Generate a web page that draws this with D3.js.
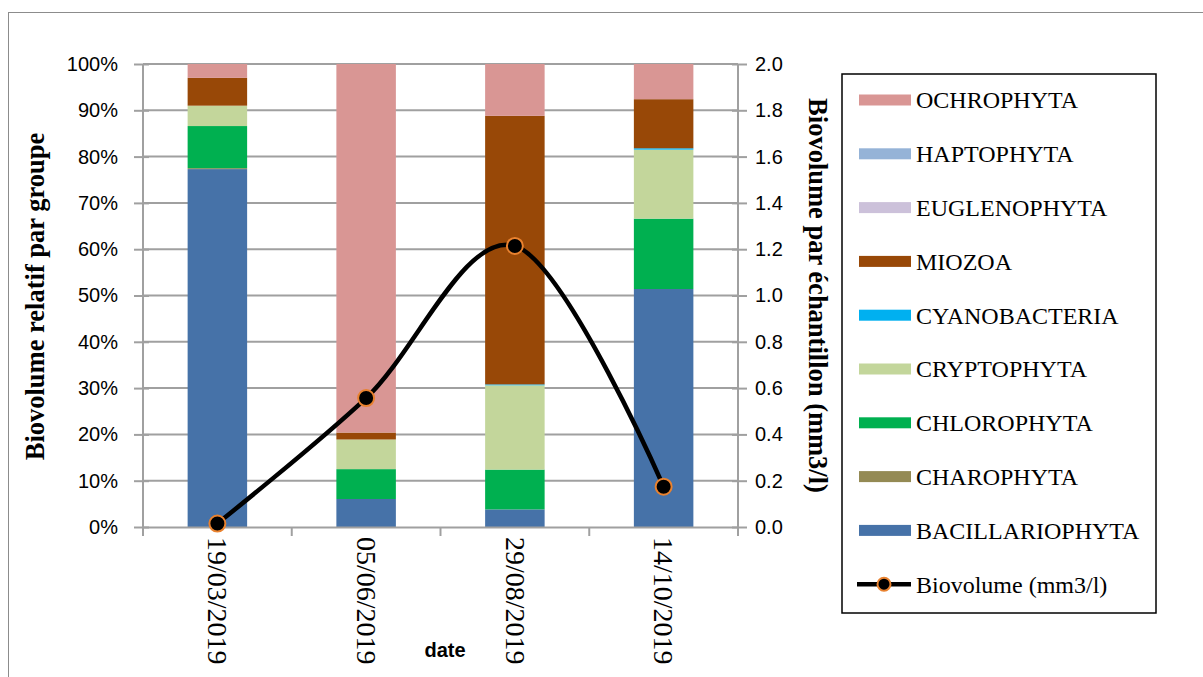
<!DOCTYPE html>
<html><head><meta charset="utf-8">
<script src="https://cdn.jsdelivr.net/npm/d3@7"></script>
<style>body{margin:0;background:#fff}svg{display:block}</style>
</head><body>
<svg id="c" width="1203" height="677"></svg>
<script>
const dates = ["19/03/2019","05/06/2019","29/08/2019","14/10/2019"];
const groups = ["BACILLARIOPHYTA","CHAROPHYTA","CHLOROPHYTA","CRYPTOPHYTA","CYANOBACTERIA","MIOZOA","EUGLENOPHYTA","HAPTOPHYTA","OCHROPHYTA"];
const colors = ["#4672A8","#948A54","#00B050","#C3D69B","#00B0F0","#984807","#CCC1DA","#95B3D7","#D99694"];
const bacillariophyta = [77.3, 6.05, 3.8, 51.4];
const charophyta = [0.2, 0, 0, 0];
const chlorophyta = [9.1, 6.45, 8.6, 15.2];
const cryptophyta = [4.4, 6.4, 18.2, 14.9];
const cyanobacteria = [0, 0, 0.2, 0.3];
const miozoa = [6.0, 1.5, 58.0, 10.6];
const euglenophyta = [0, 0, 0, 0];
const haptophyta = [0, 0, 0, 0];
const ochrophyta = [3.0, 79.6, 11.2, 7.6];
const biovolume = [0.015, 0.557, 1.214, 0.174];
const leftTicks = [0,10,20,30,40,50,60,70,80,90,100];
const rightTicks = [0,0.2,0.4,0.6,0.8,1.0,1.2,1.4,1.6,1.8,2.0];

const series = [bacillariophyta,charophyta,chlorophyta,cryptophyta,cyanobacteria,miozoa,euglenophyta,haptophyta,ochrophyta];
const table = dates.map((d,i)=>{const o={date:d}; groups.forEach((g,j)=>o[g]=series[j][i]); return o;});

const SERIF = "'Liberation Serif', 'Times New Roman', serif";
const SANS = "'Liberation Sans', Arial, sans-serif";
const svg = d3.select("#c");
const L=143, R=738, T=64, B=527;
const x = d3.scaleBand().domain(dates).range([L,R]).paddingInner(0.6).paddingOuter(0.3);
const y = d3.scaleLinear().domain([0,100]).range([B,T]);
const y2 = d3.scaleLinear().domain([0,2]).range([B,T]);
const grey = "#a0a0a0";

// outer border
svg.append("rect").attr("x",8.5).attr("y",12.5).attr("width",1203).attr("height",700)
  .attr("fill","none").attr("stroke","#8c8c8c").attr("stroke-width",1);

// gridlines
svg.append("g").selectAll("line").data(leftTicks.slice(1)).join("line")
  .attr("x1",L).attr("x2",R).attr("y1",d=>y(d)).attr("y2",d=>y(d))
  .attr("stroke",grey).attr("stroke-width",2);

// bars
const stack = d3.stack().keys(groups)(table);
svg.append("g").selectAll("g").data(stack).join("g")
  .attr("fill",(d,i)=>colors[i])
  .selectAll("rect").data(d=>d).join("rect")
  .attr("x",d=>x(d.data.date)).attr("width",x.bandwidth())
  .attr("y",d=>y(d[1])).attr("height",d=>Math.max(0,y(d[0])-y(d[1])));

// left axis
const la = svg.append("g").attr("transform",`translate(${L},0)`)
  .call(d3.axisLeft(y).tickValues(leftTicks).tickFormat(d=>d+"%").tickSize(9).tickPadding(16));
la.select(".domain").attr("stroke",grey).attr("stroke-width",2).attr("d",`M0,${B}V${T}`);
la.selectAll(".tick line").attr("stroke",grey).attr("stroke-width",2).attr("x2",-9).attr("x1",6);
la.selectAll("text").style("font-family",SANS).style("font-size","20px").attr("fill","#000");

// right axis
const ra = svg.append("g").attr("transform",`translate(${R},0)`)
  .call(d3.axisRight(y2).tickValues(rightTicks).tickFormat(d3.format(".1f")).tickSize(9).tickPadding(8));
ra.select(".domain").attr("stroke",grey).attr("stroke-width",2).attr("d",`M0,${B}V${T}`);
ra.selectAll(".tick line").attr("stroke",grey).attr("stroke-width",2).attr("x1",-6).attr("x2",9);
ra.selectAll("text").style("font-family",SANS).style("font-size","20px").attr("fill","#000");

// bottom axis
const xa = svg.append("g").attr("transform",`translate(0,${B})`)
  .call(d3.axisBottom(x).tickSize(0));
xa.select(".domain").attr("stroke",grey).attr("stroke-width",2);
const bounds = [L, ...dates.slice(1).map(d=>x(d)-x.step()*0.3), R];
xa.append("g").selectAll("line").data(bounds).join("line")
  .attr("x1",d=>d).attr("x2",d=>d).attr("y1",0).attr("y2",9).attr("stroke",grey).attr("stroke-width",2);
xa.selectAll(".tick text").style("font-family",SERIF).style("font-size","28px")
  .attr("fill","#000").attr("text-anchor","start").attr("dy","0.33em").attr("y",0)
  .attr("transform","translate(0,10) rotate(90)");

// line
const cx = d=>x(d)+x.bandwidth()/2;
const line = d3.line().x((d,i)=>cx(dates[i])).y(d=>y2(d)).curve(d3.curveCardinal.tension(0));
svg.append("path").datum(biovolume).attr("d",line).attr("fill","none").attr("stroke","#000").attr("stroke-width",4.5);
svg.append("g").selectAll("circle").data(biovolume).join("circle")
  .attr("cx",(d,i)=>cx(dates[i])).attr("cy",d=>y2(d)).attr("r",8)
  .attr("fill","#000").attr("stroke","#E9822F").attr("stroke-width",2);

// axis titles
svg.append("text").attr("transform",`translate(44,${(T+B)/2 + 1}) rotate(-90)`).attr("text-anchor","middle")
  .style("font-family",SERIF).attr("font-weight","bold").style("font-size","26.5px")
  .text("Biovolume  relatif par groupe");
svg.append("text").attr("transform",`translate(809,${(T+B)/2}) rotate(90)`).attr("text-anchor","middle")
  .style("font-family",SERIF).attr("font-weight","bold").style("font-size","26.5px")
  .text("Biovolume par échantillon (mm3/l)");
svg.append("text").attr("x",445).attr("y",657).attr("text-anchor","middle")
  .style("font-family",SANS).attr("font-weight","bold").style("font-size","20px")
  .text("date");

// legend
const lg = svg.append("g");
lg.append("rect").attr("x",842).attr("y",74).attr("width",314).attr("height",539)
  .attr("fill","#fff").attr("stroke","#000").attr("stroke-width",1.5);
const legOrder = groups.slice().reverse();
const rowY = i=>100 + i*53.8;
legOrder.forEach((g,i)=>{
  const j = groups.indexOf(g);
  lg.append("rect").attr("x",859).attr("y",rowY(i)-5.5).attr("width",52).attr("height",11).attr("fill",colors[j]);
  lg.append("text").attr("x",916).attr("y",rowY(i)).attr("dy","0.35em")
    .style("font-family",SERIF).style("font-size","24px").text(g);
});
const ly = rowY(9);
lg.append("line").attr("x1",857).attr("x2",911).attr("y1",ly).attr("y2",ly).attr("stroke","#000").attr("stroke-width",4.5);
lg.append("circle").attr("cx",884).attr("cy",ly).attr("r",6.5).attr("fill","#000").attr("stroke","#E9822F").attr("stroke-width",2);
lg.append("text").attr("x",916).attr("y",ly).attr("dy","0.35em")
  .style("font-family",SERIF).style("font-size","24px").text("Biovolume (mm3/l)");
</script>
</body></html>
